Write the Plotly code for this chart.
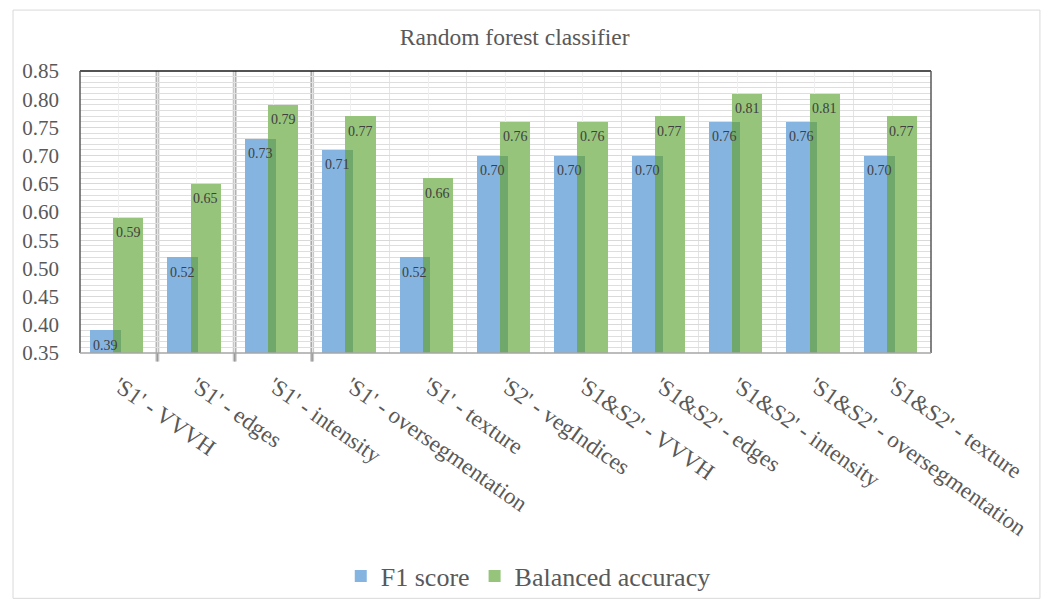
import plotly.graph_objects as go

# Feature sets evaluated with the random forest classifier
categories = [
    "'S1' - VVVH",
    "'S1' - edges",
    "'S1' - intensity",
    "'S1' - oversegmentation",
    "'S1' - texture",
    "'S2' - vegIndices",
    "'S1&S2' - VVVH",
    "'S1&S2' - edges",
    "'S1&S2' - intensity",
    "'S1&S2' - oversegmentation",
    "'S1&S2' - texture",
]
f1_score = [0.39, 0.52, 0.73, 0.71, 0.52, 0.70, 0.70, 0.70, 0.76, 0.76, 0.70]
balanced_accuracy = [0.59, 0.65, 0.79, 0.77, 0.66, 0.76, 0.76, 0.77, 0.81, 0.81, 0.77]
y_ticks = [0.35, 0.40, 0.45, 0.50, 0.55, 0.60, 0.65, 0.70, 0.75, 0.80, 0.85]

FONT = "Liberation Serif, Times New Roman, serif"
BLUE = "#85b4e1"
GREEN = "#96c47a"
OVERLAP = "#70a86c"
TEXT = "#404040"
AXIS_TEXT = "#595959"

xs = list(range(len(categories)))

# bar geometry in category units
BLUE_OFF, BLUE_W = -0.37, 0.40
GREEN_OFF, GREEN_W = -0.07, 0.39
overlap_w = BLUE_OFF + BLUE_W - GREEN_OFF

fig = go.Figure()
fig.add_trace(go.Bar(
    x=xs, y=f1_score, name="F1 score", marker=dict(color=BLUE, line=dict(width=0)),
    offset=BLUE_OFF, width=BLUE_W, hoverinfo="skip",
))
fig.add_trace(go.Bar(
    x=xs, y=balanced_accuracy, name="Balanced accuracy",
    marker=dict(color=GREEN, line=dict(width=0)),
    offset=GREEN_OFF, width=GREEN_W, hoverinfo="skip",
))
# darker strip where the two bars overlap
fig.add_trace(go.Bar(
    x=xs, y=[min(a, b) for a, b in zip(f1_score, balanced_accuracy)],
    marker=dict(color=OVERLAP, line=dict(width=0)),
    offset=GREEN_OFF, width=overlap_w, showlegend=False, hoverinfo="skip",
))

# value labels just inside the top of each bar
annotations = []
for x, v in zip(xs, f1_score):
    annotations.append(dict(
        x=x + BLUE_OFF + BLUE_W / 2, y=v, xref="x", yref="y", text=f"{v:.2f}",
        showarrow=False, yshift=-15, font=dict(family=FONT, size=14, color=TEXT),
    ))
for x, v in zip(xs, balanced_accuracy):
    annotations.append(dict(
        x=x + GREEN_OFF + GREEN_W / 2, y=v, xref="x", yref="y", text=f"{v:.2f}",
        showarrow=False, yshift=-15, font=dict(family=FONT, size=14, color=TEXT),
    ))

shapes = []
# outer chart frame
shapes.append(dict(type="rect", xref="paper", yref="paper",
                   x0=-0.0787, x1=1.128, y0=-0.87, y1=1.216,
                   line=dict(color="#d9d9d9", width=1), layer="below"))
# darker separators between the first groups
for b in [0.5, 1.5, 2.5]:
    shapes.append(dict(type="line", xref="x", yref="paper", x0=b, x1=b, y0=-0.03, y1=1,
                       line=dict(color="#c8c8c8", width=4), layer="below"))
    shapes.append(dict(type="line", xref="x", yref="paper", x0=b, x1=b, y0=-0.03, y1=1,
                       line=dict(color="#9a9a9a", width=1.5), layer="below"))
# plot frame
shapes.append(dict(type="line", xref="paper", yref="paper", x0=0, x1=1, y0=1, y1=1,
                   line=dict(color="#1a1a1a", width=1.5)))
shapes.append(dict(type="line", xref="paper", yref="paper", x0=0, x1=0, y0=0, y1=1,
                   line=dict(color="#595959", width=1.5)))
shapes.append(dict(type="line", xref="paper", yref="paper", x0=1, x1=1, y0=0, y1=1,
                   line=dict(color="#595959", width=1.5)))
shapes.append(dict(type="line", xref="paper", yref="paper", x0=0, x1=1, y0=0, y1=0,
                   line=dict(color="#a6a6a6", width=1.5)))

fig.update_layout(
    width=1044, height=599,
    margin=dict(l=80, r=113, t=71, b=246),
    paper_bgcolor="white", plot_bgcolor="white",
    barmode="overlay", bargap=0,
    title=dict(text="Random forest classifier", x=0.493, xref="container", xanchor="center",
               y=1 - 37 / 599, yref="container", yanchor="middle",
               font=dict(family=FONT, size=23.5, color=AXIS_TEXT)),
    font=dict(family=FONT, color=AXIS_TEXT),
    showlegend=True,
    legend=dict(orientation="h", x=0.506, xref="container", xanchor="center",
                y=1 - 576 / 599, yref="container", yanchor="middle",
                font=dict(family=FONT, size=26, color=AXIS_TEXT),
                bgcolor="rgba(0,0,0,0)",
                itemwidth=30, traceorder="normal"),
    annotations=annotations,
    shapes=shapes,
)

fig.update_xaxes(
    range=[-0.5, len(categories) - 0.5],
    tickmode="array", tickvals=xs, ticktext=categories,
    tickangle=35, tickfont=dict(family=FONT, size=23, color=AXIS_TEXT),
    showgrid=True, gridcolor="#efefef", gridwidth=1,
    minor=dict(tickmode="array", tickvals=[x + 0.5 for x in xs[:-1]],
               showgrid=True, gridcolor="#e4e4e4", gridwidth=1),
    ticks="", showline=False, zeroline=False, ticklabelstandoff=14,
)
fig.update_yaxes(
    range=[0.35, 0.85],
    tickmode="array", tickvals=y_ticks, ticktext=[f"{v:.2f}" for v in y_ticks],
    tickfont=dict(family=FONT, size=21, color=AXIS_TEXT),
    showgrid=True, gridcolor="#d9d9d9", gridwidth=1,
    minor=dict(dtick=0.01, tick0=0.35, showgrid=True, gridcolor="#dedede", gridwidth=1),
    ticks="", showline=False, zeroline=False, ticklabelstandoff=20,
)

fig.write_html("out.html")
